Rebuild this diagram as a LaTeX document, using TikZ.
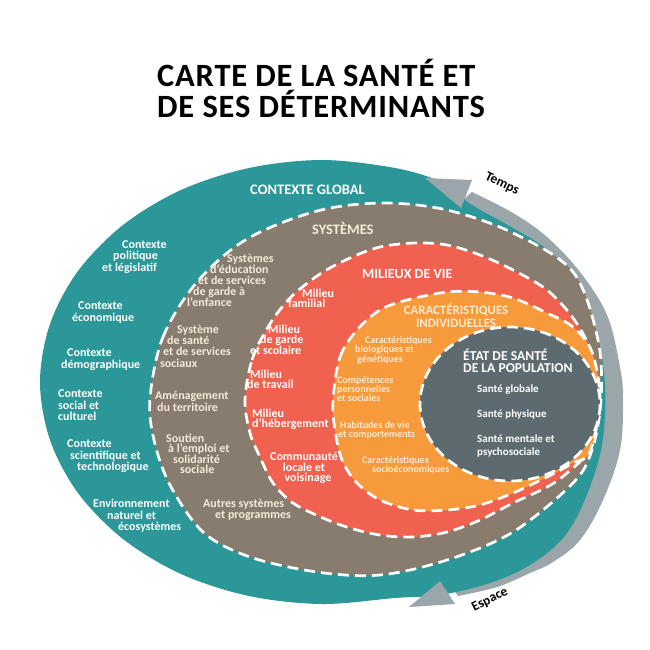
\documentclass[tikz,border=0pt]{standalone}
\usepackage{fontspec}
\setmainfont{Carlito}
\newfontfamily\titlefont{Carlito}[LetterSpace=2.5]
\definecolor{tealc}{HTML}{2B9799}
\definecolor{brownc}{HTML}{877C6D}
\definecolor{redc}{HTML}{F0614F}
\definecolor{orangec}{HTML}{F79A3C}
\definecolor{slatec}{HTML}{5D6B71}
\definecolor{bandc}{HTML}{9AA6A9}
\definecolor{creamc}{HTML}{F4EBDA}
\definecolor{paleo}{HTML}{FDEBD2}
\begin{document}
\begin{tikzpicture}[x=1pt,y=-1pt,
  dashb/.style={draw=white, line width=2.7pt, dash pattern=on 11pt off 6pt},
  txt/.style={inner sep=0pt, anchor=base west, align=left, text=white,
    font=\bfseries\fontsize{12}{11.3}\selectfont},
  ctx/.style={txt},
  sys/.style={txt, text=creamc},
  mil/.style={txt, font=\bfseries\fontsize{12}{10.5}\selectfont},
  car/.style={txt, text=paleo, font=\bfseries\fontsize{10}{9.6}\selectfont},
  eta/.style={txt, font=\bfseries\fontsize{11}{13}\selectfont},
  head/.style={inner sep=0pt, anchor=base west, align=left, text=white,
    font=\bfseries\fontsize{14.5}{14}\selectfont},
  arrowlbl/.style={inner sep=0pt, text=black, font=\bfseries\fontsize{13.5}{14}\selectfont}
]
\useasboundingbox (0,0) rectangle (650,649);
\fill[white] (0,0) rectangle (650,649);

% gray band (Temps / Espace)
\fill[bandc] plot[smooth, tension=0.6] coordinates {(472,192) (513,213) (547,237) (580,272) (607,315) (620,367) (623,400) (620,450) (603,500) (580,540) (553,562) (530,573) (497,587) (458,596)}
  -- (440,570) -- (560,400) -- (445,215) -- cycle;

% contexte global (teal)
\fill[tealc] plot[smooth cycle, tension=0.55] coordinates {(40,382) (50,324) (78,271) (123,225) (181,190) (249,168) (322,160) (395,168) (441,182) (472,205) (513,228) (550,252) (576,288) (596,330) (605,385) (602,445) (586,497) (564,537) (530,565) (490,583) (440,595) (395,598) (322,604) (249,596) (181,574) (123,539) (78,493) (50,440)};

% arrow heads
\fill[bandc] (425,178) -- (472,180) -- (461,208) -- cycle;
\fill[bandc] (409,607) -- (440,581) -- (455,604) -- cycle;

% systemes (brown)
\path[fill=brownc, dashb] plot[smooth cycle, tension=0.55] coordinates {(150,398) (163,337) (197,282) (247,239) (317,211) (383,203) (447,210) (513,233) (573,272) (598,340) (601,400) (592,450) (573,483) (513,532) (447,560) (380,575) (317,572) (250,557) (203,532) (170,485) (154,440)};

% milieux de vie (red)
\path[fill=redc, dashb] plot[smooth cycle, tension=0.55] coordinates {(245,400) (252,360) (268,327) (290,298) (320,274) (350,258) (380,247) (415,243) (447,245) (480,255) (513,270) (547,290) (573,318) (590,350) (598,400) (588,450) (567,473) (547,487) (513,503) (480,520) (447,532) (413,537) (380,535) (350,528) (323,518) (293,503) (273,483) (260,457) (250,433)};

% caracteristiques individuelles (orange)
\path[fill=orangec, dashb] plot[smooth cycle, tension=0.55] coordinates {(333,400) (340,357) (357,330) (380,310) (407,300) (447,292) (480,292) (513,298) (547,313) (573,327) (592,352) (600,400) (590,452) (573,463) (547,477) (513,493) (480,505) (447,510) (413,510) (380,500) (357,483) (342,460) (335,430)};

% etat de sante (slate)
\path[fill=slatec, dashb] (510,404) ellipse[x radius=90, y radius=77];

% title (base anchor = last line)
\node[inner sep=0pt, anchor=base west, align=left, text=black,
  font=\titlefont\bfseries\fontsize{32.5}{31}\selectfont] (title) at (157,117)
  {CARTE DE LA SANTÉ ET\\DE SES DÉTERMINANTS};

% headings
\node[head] (hctx) at (250,194) {CONTEXTE GLOBAL};
\node[head, text=creamc] (hsys) at (312,234) {SYSTÈMES};
\node[head, font=\bfseries\fontsize{14}{14}\selectfont] (hmil) at (362,278) {MILIEUX DE VIE};
\node[head, anchor=base, align=center, text=paleo, font=\bfseries\fontsize{12.8}{13}\selectfont] (hcar) at (456,327) {CARACTÉRISTIQUES\\INDIVIDUELLES};
\node[head, font=\bfseries\fontsize{13.6}{12.5}\selectfont] (heta) at (463,372.5) {ÉTAT DE SANTÉ\\DE LA POPULATION};

% contexte global items
\node[ctx] (c1) at (102,271) {\hspace*{20pt}Contexte\\\hspace*{11pt}politique\\et législatif};
\node[ctx] (c2) at (72,321) {\hspace*{6pt}Contexte\\économique};
\node[ctx] (c3) at (61,368) {\hspace*{6pt}Contexte\\démographique};
\node[ctx] (c4) at (58,420.5) {Contexte\\social et\\culturel};
\node[ctx] (c5) at (67,470.5) {Contexte\\\hspace*{3pt}scientifique et\\\hspace*{10pt}technologique};
\node[ctx] (c6) at (93,530.5) {Environnement\\\hspace*{14pt}naturel et\\\hspace*{25pt}écosystèmes};

% systemes items
\node[sys, font=\bfseries\fontsize{12}{10.8}\selectfont] (s1) at (187,306) {\hspace*{40pt}Systèmes\\\hspace*{23pt}d’éducation\\\hspace*{11pt}et de services\\\hspace*{6pt}de garde à\\l’enfance};
\node[sys] (s2) at (160,367) {\hspace*{17pt}Système\\\hspace*{7pt}de santé\\\hspace*{3pt}et de services\\sociaux};
\node[sys, font=\bfseries\fontsize{12}{12.5}\selectfont] (s3) at (155,411.5) {Aménagement\\\hspace*{2pt}du territoire};
\node[sys, font=\bfseries\fontsize{12}{10.5}\selectfont] (s4) at (166,473.5) {Soutien\\\hspace*{2pt}à l’emploi et\\\hspace*{7pt}solidarité\\\hspace*{14pt}sociale};
\node[sys] (s5) at (203,518.3) {Autres systèmes\\\hspace*{12pt}et programmes};

% milieux de vie items
\node[mil] (m1) at (288,307.5) {\hspace*{14pt}Milieu\\familial};
\node[mil] (m2) at (250,354) {\hspace*{18pt}Milieu\\\hspace*{10pt}de garde\\et scolaire};
\node[mil] (m3) at (247,388.5) {\hspace*{3pt}Milieu\\de travail};
\node[mil] (m4) at (252,427.5) {Milieu\\d’hébergement};
\node[mil, anchor=base, align=center] (m5) at (304,481.5) {Communauté\\locale et\\\hspace*{8pt}voisinage};

% caracteristiques individuelles items
\node[car] (k1) at (355,362.2) {\hspace*{10pt}Caractéristiques\\biologiques et\\\hspace*{2pt}génétiques};
\node[car, font=\bfseries\fontsize{10}{9}\selectfont] (k2) at (337,401) {Compétences\\personnelles\\et sociales};
\node[car] (k3) at (338,437.6) {\hspace*{2pt}Habitudes de vie\\et comportements};
\node[car] (k4) at (362,472.6) {Caractéristiques\\\hspace*{10pt}socioéconomiques};

% etat de sante items
\node[eta] (e1) at (477,392) {Santé globale};
\node[eta] (e2) at (477,417) {Santé physique};
\node[eta] (e3) at (477,455) {Santé mentale et\\psychosociale};

% band labels
\node[arrowlbl, rotate=-25] (temps) at (502,184) {Temps};
\node[arrowlbl, rotate=27] (espace) at (490,600) {Espace};
\end{tikzpicture}
\end{document}
